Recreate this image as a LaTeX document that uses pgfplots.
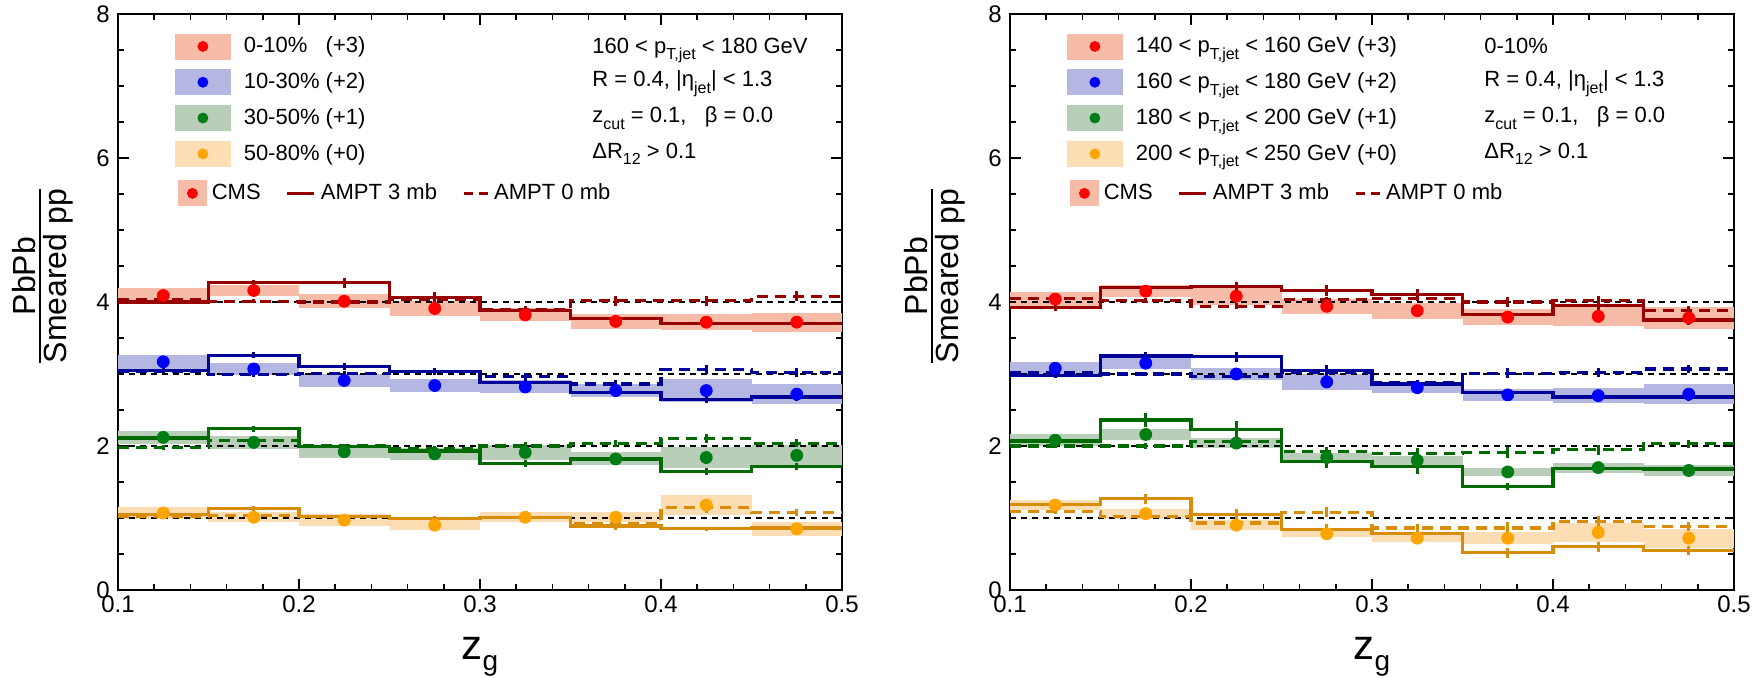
\documentclass[border=0pt]{standalone}
\usepackage{amsmath}
\usepackage{fontspec}
\setmainfont{Liberation Sans}
\usepackage{pgfplots}
\usepackage{pgfplotstable}
\pgfplotsset{compat=1.18}

\definecolor{redbox}{RGB}{247,188,168}
\definecolor{bluebox}{RGB}{180,183,226}
\definecolor{greenbox}{RGB}{184,206,184}
\definecolor{orangebox}{RGB}{253,221,180}
\definecolor{reddot}{RGB}{255,0,0}
\definecolor{bluedot}{RGB}{0,0,255}
\definecolor{greendot}{RGB}{0,125,20}
\definecolor{orangedot}{RGB}{255,165,0}
\definecolor{redline}{RGB}{150,0,0}
\definecolor{blueline}{RGB}{0,0,150}
\definecolor{greenline}{RGB}{0,105,0}
\definecolor{orangeline}{RGB}{215,140,10}

% columns: left bin edge, CMS, CMS syst, AMPT 3mb, err, AMPT 0mb, err
\pgfplotstableread{
xl cms sys a3 e3 a0 e0
0.10 4.09 0.10 4.00 0.03 4.04 0.03
0.15 4.16 0.08 4.27 0.04 4.01 0.03
0.20 4.01 0.10 4.27 0.07 4.00 0.03
0.25 3.91 0.11 4.06 0.08 4.03 0.04
0.30 3.82 0.09 3.88 0.05 3.90 0.05
0.35 3.73 0.10 3.77 0.05 4.02 0.07
0.40 3.72 0.11 3.70 0.05 4.02 0.07
0.45 3.72 0.13 3.70 0.05 4.08 0.07
0.50 3.72 0.13 3.70 0.05 4.08 0.07
}\LRed
\pgfplotstableread{
xl cms sys a3 e3 a0 e0
0.10 3.17 0.10 3.05 0.03 3.04 0.03
0.15 3.07 0.08 3.26 0.04 2.99 0.03
0.20 2.91 0.09 3.10 0.05 3.01 0.03
0.25 2.84 0.09 3.04 0.04 3.03 0.04
0.30 2.82 0.09 2.88 0.04 2.97 0.05
0.35 2.77 0.09 2.74 0.04 2.86 0.05
0.40 2.77 0.16 2.65 0.05 3.06 0.06
0.45 2.72 0.14 2.68 0.05 3.02 0.06
0.50 2.72 0.14 2.68 0.05 3.02 0.06
}\LBlue
\pgfplotstableread{
xl cms sys a3 e3 a0 e0
0.10 2.12 0.09 2.11 0.03 1.98 0.03
0.15 2.05 0.09 2.24 0.04 2.08 0.03
0.20 1.92 0.08 1.99 0.03 2.00 0.03
0.25 1.89 0.08 1.93 0.04 1.96 0.04
0.30 1.91 0.10 1.76 0.05 2.00 0.05
0.35 1.82 0.09 1.82 0.04 2.04 0.05
0.40 1.84 0.14 1.65 0.05 2.10 0.06
0.45 1.87 0.14 1.72 0.05 2.04 0.06
0.50 1.87 0.14 1.72 0.05 2.04 0.06
}\LGreen
\pgfplotstableread{
xl cms sys a3 e3 a0 e0
0.10 1.07 0.08 1.05 0.03 1.02 0.03
0.15 1.01 0.07 1.13 0.04 1.03 0.03
0.20 0.97 0.08 1.02 0.03 1.02 0.03
0.25 0.90 0.07 0.99 0.04 0.99 0.04
0.30 1.01 0.07 1.01 0.05 1.01 0.05
0.35 1.01 0.07 0.89 0.05 0.92 0.05
0.40 1.18 0.14 0.85 0.03 1.15 0.08
0.45 0.85 0.10 0.86 0.04 1.08 0.05
0.50 0.85 0.10 0.86 0.04 1.08 0.05
}\LOrange

\pgfplotstableread{
xl cms sys a3 e3 a0 e0
0.10 4.04 0.10 3.92 0.04 4.05 0.03
0.15 4.15 0.08 4.20 0.04 4.02 0.03
0.20 4.08 0.12 4.21 0.07 3.94 0.04
0.25 3.94 0.10 4.16 0.08 4.03 0.04
0.30 3.88 0.11 4.10 0.08 4.05 0.04
0.35 3.79 0.11 3.83 0.05 4.00 0.07
0.40 3.80 0.13 3.95 0.07 4.02 0.07
0.45 3.78 0.15 3.75 0.07 3.88 0.07
0.50 3.78 0.15 3.75 0.07 3.88 0.07
}\RRed
\pgfplotstableread{
xl cms sys a3 e3 a0 e0
0.10 3.08 0.09 2.98 0.03 3.02 0.03
0.15 3.15 0.08 3.25 0.05 3.00 0.03
0.20 3.00 0.09 3.24 0.07 2.97 0.04
0.25 2.89 0.11 3.05 0.08 3.02 0.04
0.30 2.81 0.08 2.86 0.06 2.88 0.04
0.35 2.71 0.08 2.74 0.04 3.01 0.07
0.40 2.70 0.10 2.68 0.05 3.02 0.06
0.45 2.72 0.14 2.68 0.05 3.07 0.06
0.50 2.72 0.14 2.68 0.05 3.07 0.06
}\RBlue
\pgfplotstableread{
xl cms sys a3 e3 a0 e0
0.10 2.08 0.08 2.07 0.03 2.00 0.03
0.15 2.16 0.08 2.36 0.10 2.00 0.04
0.20 2.04 0.07 2.23 0.12 2.06 0.05
0.25 1.84 0.06 1.78 0.08 1.92 0.07
0.30 1.80 0.06 1.71 0.10 1.90 0.07
0.35 1.64 0.06 1.44 0.05 1.91 0.07
0.40 1.70 0.07 1.69 0.05 1.95 0.07
0.45 1.66 0.08 1.68 0.05 2.03 0.06
0.50 1.66 0.08 1.68 0.05 2.03 0.06
}\RGreen
\pgfplotstableread{
xl cms sys a3 e3 a0 e0
0.10 1.18 0.07 1.19 0.03 1.09 0.03
0.15 1.06 0.07 1.27 0.07 1.02 0.04
0.20 0.90 0.07 1.05 0.07 0.93 0.04
0.25 0.78 0.05 0.84 0.07 1.08 0.07
0.30 0.72 0.06 0.78 0.06 0.86 0.06
0.35 0.72 0.08 0.52 0.07 0.86 0.08
0.40 0.80 0.13 0.60 0.07 0.95 0.08
0.45 0.72 0.13 0.55 0.06 0.88 0.06
0.50 0.72 0.13 0.55 0.06 0.88 0.06
}\ROrange

\newcommand{\sub}[1]{\raisebox{-3.3pt}{\fontsize{8}{9}\selectfont #1}}

% #1 table, #2 box colour, #3 dot colour, #4 line colour, #5 reference level
\newcommand{\drawseries}[5]{%
  \addplot[forget plot, draw=none, no marks, skip coords between index={8}{9},
    error bars/.cd, y dir=both, y explicit, error mark=none,
    error bar style={draw=#2, solid, line width=45.25pt, line cap=butt}]
    table[x expr=\thisrow{xl}+0.025, y=cms, y error=sys] {#1};
  \addplot[forget plot, black, line width=0.6pt, dash pattern=on 3pt off 2.5pt]
    coordinates {(0.1,#5) (0.5,#5)};
  \addplot[forget plot, const plot, draw=#4, line width=1.6pt, dash pattern=on 5.5pt off 3.5pt]
    table[x=xl, y=a0] {#1};
  \addplot[forget plot, draw=none, no marks, skip coords between index={8}{9},
    error bars/.cd, y dir=both, y explicit, error mark=none,
    error bar style={draw=#4, solid, line width=1.3pt}]
    table[x expr=\thisrow{xl}+0.025, y=a0, y error=e0] {#1};
  \addplot[forget plot, const plot, draw=#4, line width=1.6pt]
    table[x=xl, y=a3] {#1};
  \addplot[forget plot, draw=none, no marks, skip coords between index={8}{9},
    error bars/.cd, y dir=both, y explicit, error mark=none,
    error bar style={draw=#4, solid, line width=1.3pt}]
    table[x expr=\thisrow{xl}+0.025, y=a3, y error=e3] {#1};
  \addplot[forget plot, only marks, mark=*, mark size=3pt, color=#3,
    skip coords between index={8}{9}]
    table[x expr=\thisrow{xl}+0.025, y=cms] {#1};
}

\pgfplotsset{
  panel/.style={
    width=362pt, height=288pt, scale only axis, anchor=south west,
    xmin=0.1, xmax=0.5, ymin=0, ymax=8,
    xtick={0.1,0.2,0.3,0.4,0.5}, xticklabels={0.1,0.2,0.3,0.4,0.5},
    ytick={0,2,4,6,8},
    minor x tick num=4, minor y tick num=3,
    tick align=inside, xtick pos=both, ytick pos=both,
    major tick length=5.5pt, minor tick length=3pt,
    tick style={black, line width=0.8pt},
    axis line style={line width=0.9pt},
    tick label style={font=\fontsize{12}{14}\selectfont},
    /pgf/number format/assume math mode=true,
    xticklabel style={inner sep=0pt, yshift=-2.5pt},
    yticklabel style={inner sep=0pt, xshift=-4pt},
    xlabel={z\raisebox{-0.25em}{\fontsize{14}{16}\selectfont g}},
    xlabel style={font=\fontsize{21}{24}\selectfont, at={(rel axis cs:0.5,0)}, anchor=base, yshift=-35pt},
    ylabel={\fontsize{16}{19}\selectfont$\genfrac{}{}{1.2pt}{1}{\mbox{\fontsize{16}{19}\selectfont PbPb}}{\mbox{\fontsize{16}{19}\selectfont Smeared pp}}$},
    ylabel style={at={(rel axis cs:-0.104,0.545)}, anchor=center},
    legend style={at={(0.0787,0.9661)}, anchor=north west, draw=none, fill=none,
      inner sep=0pt, outer sep=0pt, row sep=5pt, column sep=6.5pt,
      font=\fontsize{11}{13}\selectfont, nodes={inner sep=0pt}},
    legend cell align=left,
  },
  legpanel/.style={
    width=362pt, height=288pt, scale only axis, anchor=south west, hide axis,
    xmin=0, xmax=1, ymin=0, ymax=1, legend columns=3,
    legend style={at={(0.0829,0.711)}, anchor=north west, draw=none, fill=none,
      inner sep=0pt, outer sep=0pt, column sep=2.5pt,
      /tikz/every even column/.append style={column sep=12.5pt},
      font=\fontsize{11}{13}\selectfont, nodes={inner sep=0pt}},
    legend cell align=left,
  },
  legbox/.style 2 args={legend image code/.code={
    \fill[#1] (0pt,-6.25pt) rectangle (27.5pt,6.25pt);
    \fill[#2] (13.75pt,0pt) circle (2.5pt);}},
  legsmall/.style 2 args={legend image code/.code={
    \fill[#1] (0pt,-6.25pt) rectangle (14pt,6.25pt);
    \fill[#2] (7pt,0pt) circle (2.5pt);}},
  legsolid/.style={legend image code/.code={
    \draw[redline, line width=1.6pt] (0pt,0pt) -- (13.5pt,0pt);}},
  legdash/.style={legend image code/.code={
    \draw[redline, line width=1.6pt, dash pattern=on 4.5pt off 3pt] (0pt,0pt) -- (12pt,0pt);}},
}

\begin{document}
\begin{tikzpicture}
\useasboundingbox (0,0) rectangle (879pt,339pt);

% ---------------- left panel ----------------
\begin{axis}[panel, at={(59pt,44pt)}]
\drawseries{\LRed}{redbox}{reddot}{redline}{4}
\drawseries{\LBlue}{bluebox}{bluedot}{blueline}{3}
\drawseries{\LGreen}{greenbox}{greendot}{greenline}{2}
\drawseries{\LOrange}{orangebox}{orangedot}{orangeline}{1}
\addlegendimage{legbox={redbox}{reddot}}
\addlegendentry{0-10\%\ \ \ (+3)}
\addlegendimage{legbox={bluebox}{bluedot}}
\addlegendentry{10-30\% (+2)}
\addlegendimage{legbox={greenbox}{greendot}}
\addlegendentry{30-50\% (+1)}
\addlegendimage{legbox={orangebox}{orangedot}}
\addlegendentry{50-80\% (+0)}
\begin{scope}[every node/.style={anchor=base west, inner sep=0pt, font=\fontsize{11}{13}\selectfont}]
\node at (rel axis cs:0.6547,0.9323) {160 < p\sub{T,jet} < 180 GeV};
\node at (rel axis cs:0.6547,0.8733) {R = 0.4, |η\sub{jet}| < 1.3};
\node at (rel axis cs:0.6547,0.8108) {z\sub{cut} = 0.1,\ \ \ β = 0.0};
\node at (rel axis cs:0.6547,0.7500) {ΔR\sub{12} > 0.1};
\end{scope}
\end{axis}
\begin{axis}[legpanel, at={(59pt,44pt)}]
\addlegendimage{legsmall={redbox}{reddot}}
\addlegendentry{CMS}
\addlegendimage{legsolid}
\addlegendentry{AMPT 3 mb}
\addlegendimage{legdash}
\addlegendentry{AMPT 0 mb}
\end{axis}

% ---------------- right panel ----------------
\begin{axis}[panel, at={(505pt,44pt)}]
\drawseries{\RRed}{redbox}{reddot}{redline}{4}
\drawseries{\RBlue}{bluebox}{bluedot}{blueline}{3}
\drawseries{\RGreen}{greenbox}{greendot}{greenline}{2}
\drawseries{\ROrange}{orangebox}{orangedot}{orangeline}{1}
\addlegendimage{legbox={redbox}{reddot}}
\addlegendentry{140 < p\sub{T,jet} < 160 GeV (+3)}
\addlegendimage{legbox={bluebox}{bluedot}}
\addlegendentry{160 < p\sub{T,jet} < 180 GeV (+2)}
\addlegendimage{legbox={greenbox}{greendot}}
\addlegendentry{180 < p\sub{T,jet} < 200 GeV (+1)}
\addlegendimage{legbox={orangebox}{orangedot}}
\addlegendentry{200 < p\sub{T,jet} < 250 GeV (+0)}
\begin{scope}[every node/.style={anchor=base west, inner sep=0pt, font=\fontsize{11}{13}\selectfont}]
\node at (rel axis cs:0.6547,0.9323) {0-10\%};
\node at (rel axis cs:0.6547,0.8733) {R = 0.4, |η\sub{jet}| < 1.3};
\node at (rel axis cs:0.6547,0.8108) {z\sub{cut} = 0.1,\ \ \ β = 0.0};
\node at (rel axis cs:0.6547,0.7500) {ΔR\sub{12} > 0.1};
\end{scope}
\end{axis}
\begin{axis}[legpanel, at={(505pt,44pt)}]
\addlegendimage{legsmall={redbox}{reddot}}
\addlegendentry{CMS}
\addlegendimage{legsolid}
\addlegendentry{AMPT 3 mb}
\addlegendimage{legdash}
\addlegendentry{AMPT 0 mb}
\end{axis}
\end{tikzpicture}
\end{document}
